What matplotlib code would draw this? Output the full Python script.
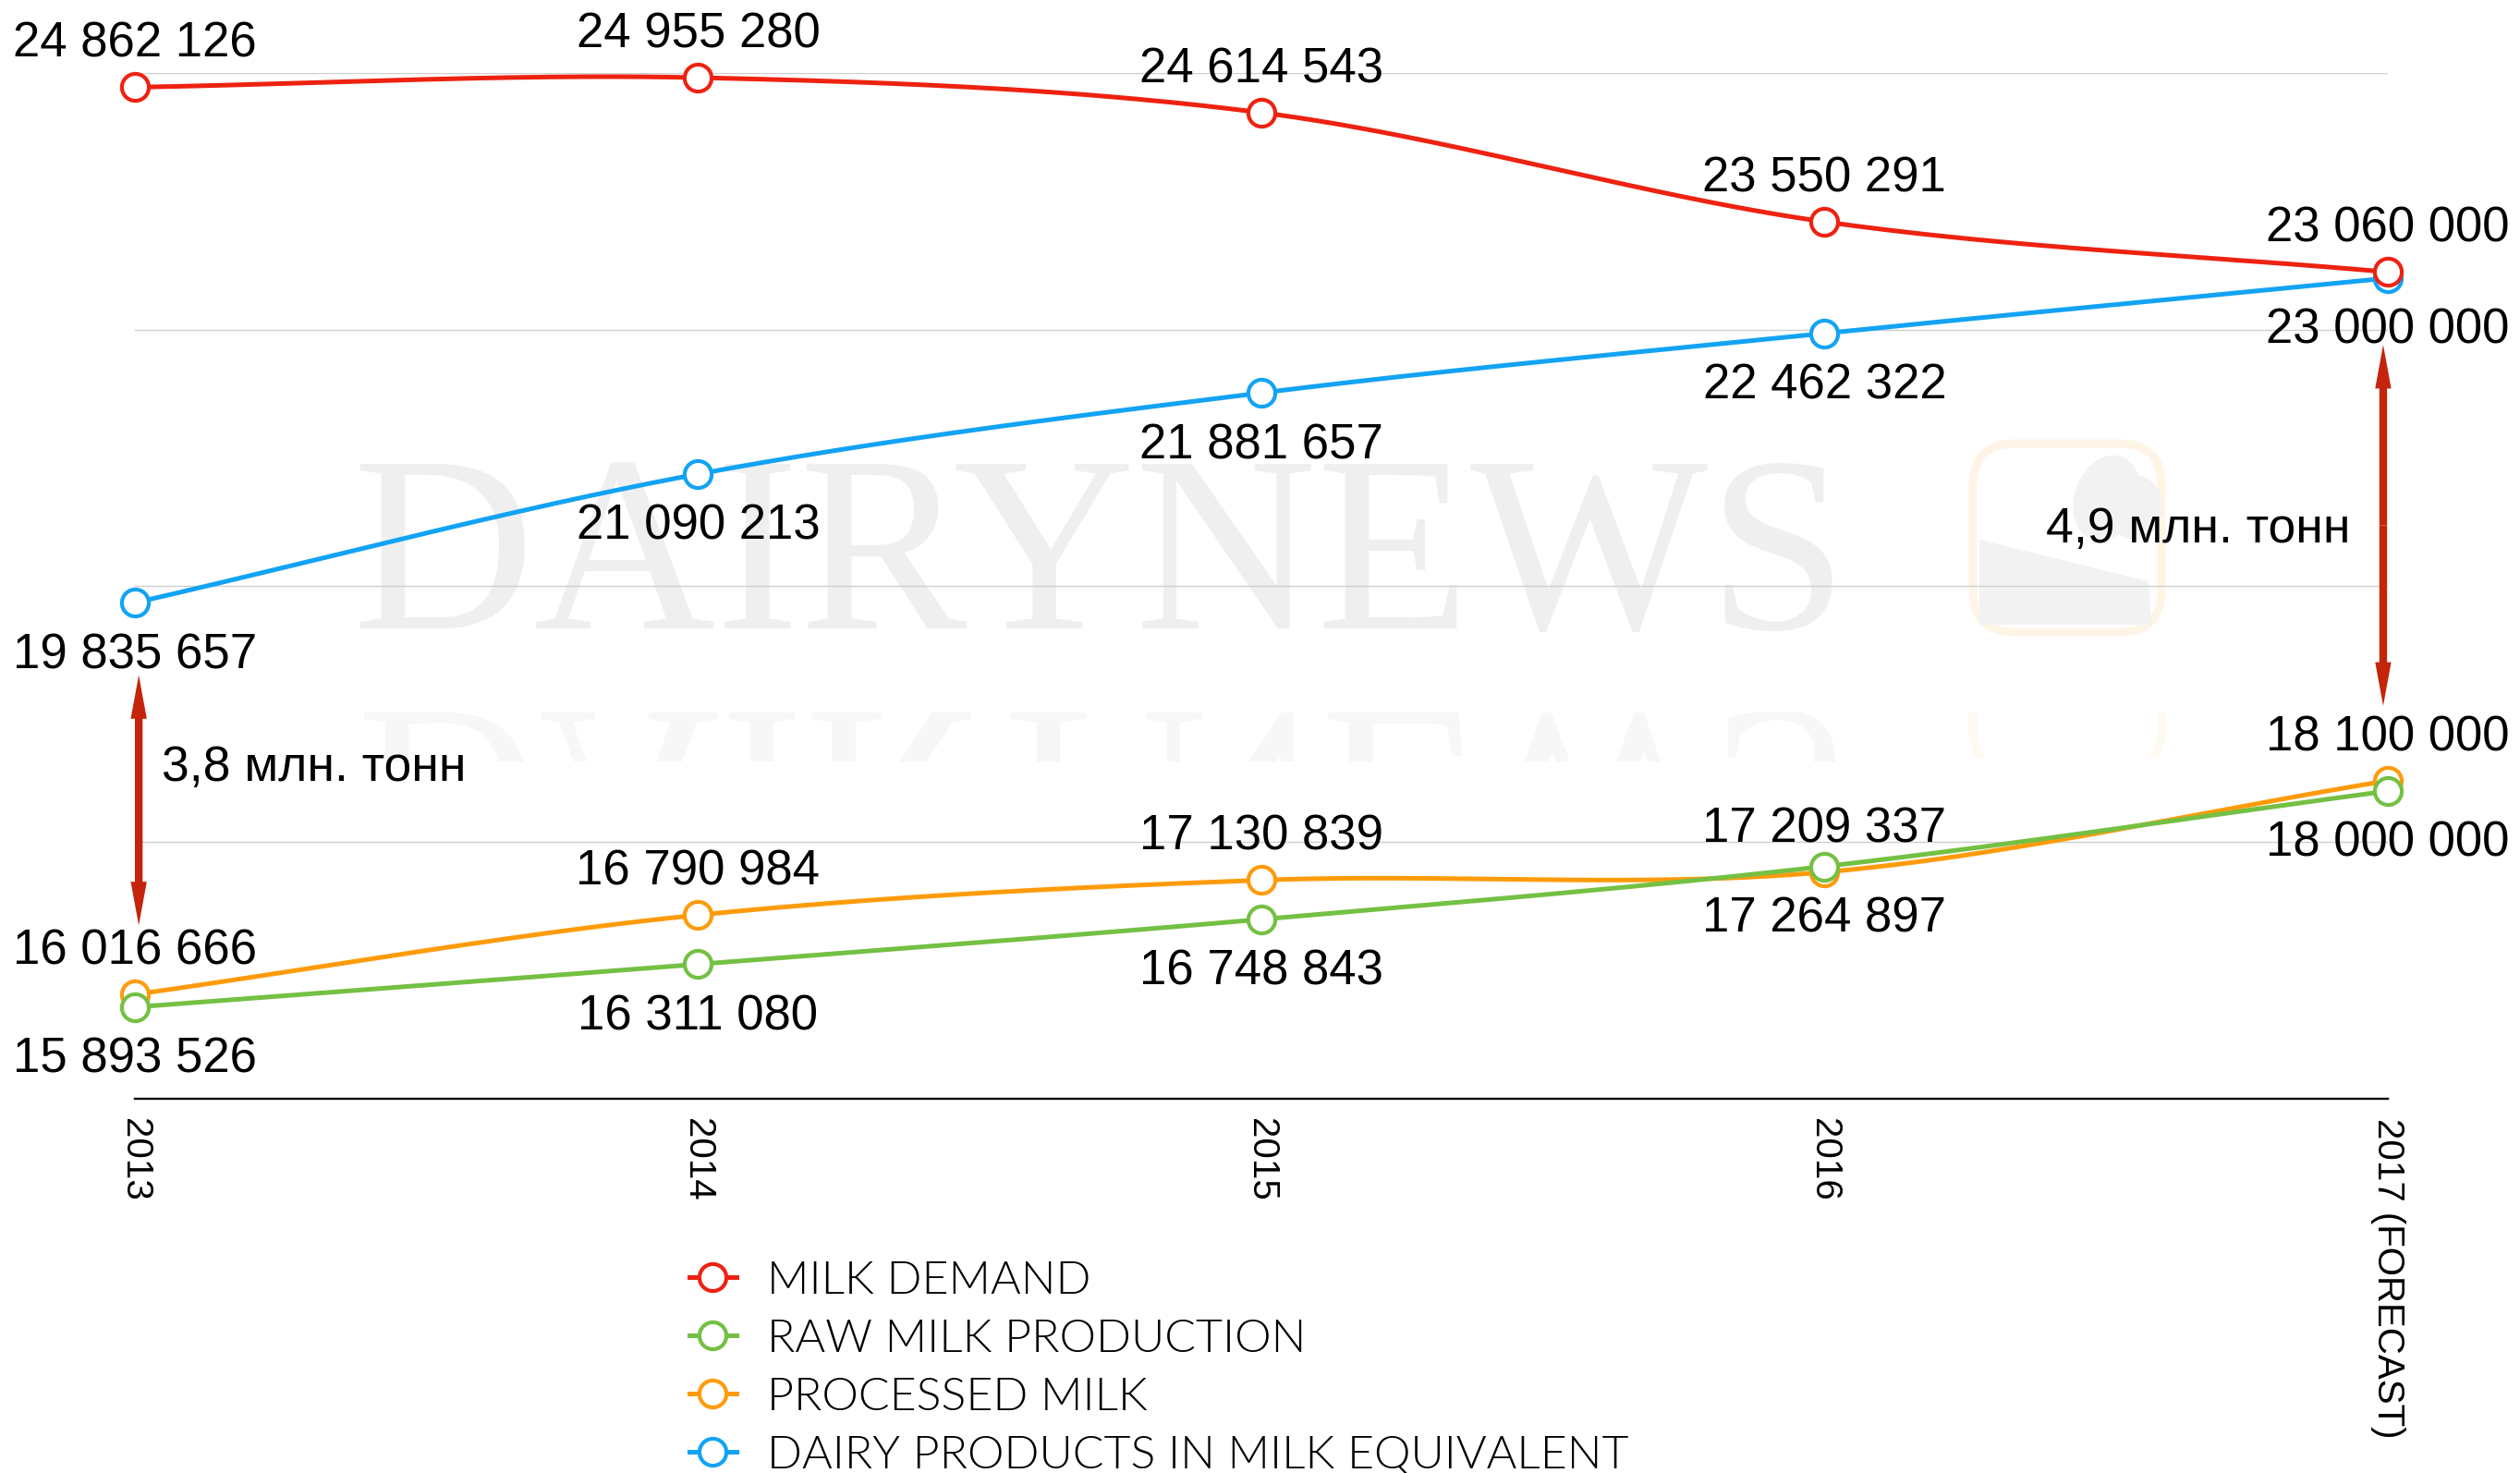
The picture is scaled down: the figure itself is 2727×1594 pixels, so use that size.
import numpy as np
import matplotlib
matplotlib.use("Agg")
import matplotlib.pyplot as plt
from matplotlib.lines import Line2D
from matplotlib.patches import FancyBboxPatch, PathPatch, Rectangle, Ellipse, Polygon
from matplotlib.textpath import TextPath
from matplotlib.font_manager import FontProperties
from matplotlib.transforms import Affine2D, IdentityTransform

# data (tonnes)
years = [2013, 2014, 2015, 2016, 2017]
year_labels = ["2013", "2014", "2015", "2016", "2017 (FORECAST)"]

milk_demand = [24862126, 24955280, 24614543, 23550291, 23060000]
raw_milk = [15893526, 16311080, 16748843, 17264897, 18000000]
processed_milk = [16016666, 16790984, 17130839, 17209337, 18100000]
dairy_equiv = [19835657, 21090213, 21881657, 22462322, 23000000]

series_names = ["MILK DEMAND", "RAW MILK PRODUCTION", "PROCESSED MILK",
                "DAIRY PRODUCTS IN MILK EQUIVALENT"]
series_colors = ["#EE2211", "#74C043", "#FF9B0A", "#12A3F5"]

gap_labels = ["3,8 млн. тонн", "4,9 млн. тонн"]

FONT = "Liberation Sans"
ARROW_COLOR = "#C4240B"


def smooth(x, y, n=80):
    # cardinal (catmull-rom) spline through the points, like the original chart tool
    x = np.asarray(x, float)
    y = np.asarray(y, float)
    m = np.empty_like(y)
    m[1:-1] = (y[2:] - y[:-2]) / (x[2:] - x[:-2])
    m[0] = (y[1] - y[0]) / (x[1] - x[0])
    m[-1] = (y[-1] - y[-2]) / (x[-1] - x[-2])
    xs, ys = [], []
    t = np.linspace(0, 1, n)
    h00 = 2 * t**3 - 3 * t**2 + 1
    h10 = t**3 - 2 * t**2 + t
    h01 = -2 * t**3 + 3 * t**2
    h11 = t**3 - t**2
    for i in range(len(x) - 1):
        h = x[i + 1] - x[i]
        xs.append(x[i] + t * h)
        ys.append(h00 * y[i] + h10 * h * m[i] + h01 * y[i + 1] + h11 * h * m[i + 1])
    return np.concatenate(xs), np.concatenate(ys)


fig = plt.figure(figsize=(27.27, 15.94), dpi=100)
ax = fig.add_axes([0.0535, 0.2541, 0.8940, 0.6963])
ax.patch.set_alpha(0)

# watermark text + faint reflection
ax.text(0.4365, 0.5734, "DAIRYNEWS", transform=fig.transFigure, ha="center",
        va="baseline", fontsize=196, family="Liberation Serif", color="#EFEFEF",
        zorder=0.1)
tp = TextPath((0, 0), "DAIRYNEWS", size=272, prop=FontProperties(family="Liberation Serif"))
ext = tp.get_extents()
refl = PathPatch(tp, transform=Affine2D().translate(-(ext.x0 + ext.x1) / 2, 0)
                 .scale(1, -1).translate(1190, 823) + IdentityTransform(),
                 fc="#F7F7F7", ec="none", zorder=0.1)
ax.add_artist(refl)
refl.set_clip_path(Rectangle((0, 770), 2727, 53, transform=IdentityTransform()))

# watermark logo
logo = FancyBboxPatch((2135, 910), 204, 204, boxstyle="round,pad=0,rounding_size=45",
                      transform=IdentityTransform(), fc="#FFFFFF", ec="#FEF5E6",
                      lw=6.5, zorder=0.1)
ax.add_artist(logo)
for art in [Ellipse((2280, 1055), 70, 95, angle=-20),
            Ellipse((2310, 1045), 60, 70),
            Polygon([(2142, 1010), (2325, 965), (2328, 918), (2142, 918)])]:
    art.set_transform(IdentityTransform())
    art.set_facecolor("#F2F2F2")
    art.set_edgecolor("none")
    art.set_zorder(0.12)
    ax.add_artist(art)
logo_refl = FancyBboxPatch((2135, 760), 204, 204, boxstyle="round,pad=0,rounding_size=45",
                           transform=IdentityTransform(), fc="none", ec="#FEF9F1",
                           lw=6.5, zorder=0.1)
ax.add_artist(logo_refl)
logo_refl.set_clip_path(Rectangle((0, 775), 2727, 48, transform=IdentityTransform()))

# series (draw order so that red sits on blue and green on orange)
order = [3, 2, 1, 0]
all_series = [milk_demand, raw_milk, processed_milk, dairy_equiv]
for k in order:
    vals = all_series[k]
    xs, ys = smooth(years, vals)
    ax.plot(xs, ys, color=series_colors[k], lw=3.6, solid_capstyle="round",
            zorder=2 + 0.1 * (3 - k), clip_on=False)
    ax.plot(years, vals, ls="none", marker="o", ms=21, mew=3.0,
            mfc="white", mec=series_colors[k], zorder=3 + 0.1 * (3 - k), clip_on=False)


def fmt(v):
    return f"{v:,}".replace(",", " ")


# value labels: demand / processed above, dairy / raw below
for vals, above in [(milk_demand, True), (processed_milk, True),
                    (dairy_equiv, False), (raw_milk, False)]:
    for x, v in zip(years, vals):
        ax.annotate(fmt(v), (x, v), xytext=(0, 23.5 if above else -51),
                    textcoords="offset points", ha="center", va="baseline",
                    fontsize=38, family=FONT, color="black", annotation_clip=False,
                    zorder=5)

# gap arrows
def gap_arrow(x, y0, y1):
    mid = (y0 + y1) / 2
    for end in (y0, y1):
        ax.annotate("", xy=(x, end), xytext=(x, mid),
                    arrowprops=dict(arrowstyle="simple,head_length=34,head_width=12.5,tail_width=6",
                                    mutation_scale=1, fc=ARROW_COLOR, ec="none", lw=0,
                                    shrinkA=0, shrinkB=0),
                    annotation_clip=False, zorder=4)


gap_arrow(2013.007, 19.13e6, 16.69e6)
gap_arrow(2016.992, 22.35e6, 18.83e6)
ax.text(2013.048, 18.10e6, gap_labels[0], fontsize=38.5, family=FONT, va="baseline",
        ha="left", zorder=5)
ax.text(2016.394, 20.42e6, gap_labels[1], fontsize=38.5, family=FONT, va="baseline",
        ha="left", zorder=5)

# axes styling
ax.set_xlim(2013, 2017)
ax.set_ylim(15e6, 25e6)
ax.set_yticks([17.5e6, 20e6, 22.5e6, 25e6])
ax.set_yticklabels([])
ax.tick_params(axis="y", length=0)
ax.grid(axis="y", color="#CFCFCF", lw=1.0)
ax.set_axisbelow(True)
for s in ["top", "left", "right"]:
    ax.spines[s].set_visible(False)
ax.spines["bottom"].set_linewidth(1.7)
ax.spines["bottom"].set_color("black")
ax.spines["bottom"].set_zorder(1)
ax.set_xticks(years)
ax.set_xticklabels(year_labels, rotation=270, fontsize=29, family=FONT,
                   ha="center", va="top")
ax.tick_params(axis="x", length=0, pad=15)

# legend
handles = [Line2D([0], [0], color=c, lw=3.6, marker="o", ms=21, mew=3.0, mfc="white", mec=c)
           for c in series_colors]
fig.legend(handles, series_names, loc="upper left", bbox_to_anchor=(0.2734, 0.1445),
           frameon=False, handlelength=1.03, handletextpad=0.66, labelspacing=0.36,
           borderpad=0, borderaxespad=0,
           prop=FontProperties(family="Lato", weight=300, size=36))

fig.savefig("out.png", dpi=100)
